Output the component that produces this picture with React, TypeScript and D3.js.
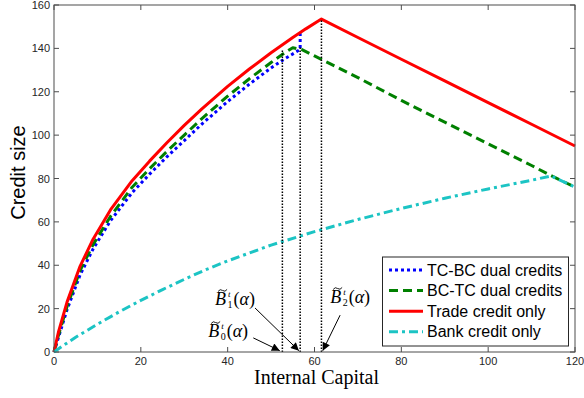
import React from 'react'
import * as d3 from 'd3'

const xTicks = [0, 20, 40, 60, 80, 100, 120]
const yTicks = [0, 20, 40, 60, 80, 100, 120, 140, 160]

// TC-BC dual credits (blue dotted)
const tcbcX = [0, 1, 3, 6, 9, 13, 18, 22, 26, 30, 34, 40, 45, 50, 53, 56.7, 56.7]
const tcbcY = [0, 6.5, 19.5, 35.5, 47.5, 60.5, 73.5, 82, 90, 97.5, 105, 115.5, 123.5, 131, 135, 139.5, 147]

// BC-TC dual credits (green dashed)
const bctcX = [0, 1, 3, 6, 9, 13, 18, 22, 26, 30, 34, 40, 45, 50, 53, 55, 57, 60, 70, 80, 90, 100, 110, 114.5, 120]
const bctcY = [0, 7.5, 21, 37.5, 49.5, 62.5, 76, 84.5, 92.5, 100, 107.5, 118, 126, 133.5, 137.8, 140.3, 139.5, 136.5, 126.5, 116, 106, 96, 86, 81.3, 76]

// Trade credit only (red solid)
const tradeX = [0, 1, 3, 6, 9, 13, 18, 22, 26, 30, 34, 40, 45, 50, 55, 58, 61.6, 70, 80, 90, 100, 110, 120]
const tradeY = [0, 9, 23, 39.5, 52, 65.5, 79, 88, 96.5, 104.5, 112, 122.5, 130.5, 138, 145, 149, 153.5, 145, 135, 125, 115, 105, 95]

// Bank credit only (cyan dash-dot)
const bankX = [0, 2, 5, 10, 15, 20, 25, 30, 35, 40, 50, 60, 70, 80, 90, 100, 110, 114.5, 120]
const bankY = [0, 2.8, 6.8, 12.8, 18.5, 23.8, 28.8, 33.5, 38, 42, 49.3, 55.5, 61.1, 66.2, 70.9, 75.2, 79.2, 81.2, 76]

// thresholds B0, B1, B2
const thresholdX = [52.6, 56.7, 61.6]
const thresholdTop = [139, 140.5, 153.5]
const thresholdIdx = ['0', '1', '2']

const seriesNames = ['TC-BC dual credits', 'BC-TC dual credits', 'Trade credit only', 'Bank credit only']
const seriesColors = ['#0000ff', '#008000', '#ff0000', '#1cc4c4']
const seriesDash = ['3,3', '9,5', null, '9,4,3,4']

const App = () => {
  const svgRef = React.useRef(null)
  const W = 584
  const H = 398

  React.useEffect(() => {
    const svg = d3.select(svgRef.current)
    svg.selectAll('*').remove()

    const left = 54
    const right = 575
    const top = 5
    const bottom = 352

    const x = d3.scaleLinear().domain([0, 120]).range([left, right])
    const y = d3.scaleLinear().domain([0, 160]).range([bottom, top])

    svg.append('rect')
      .attr('x', 0).attr('y', 0).attr('width', W).attr('height', H)
      .attr('fill', '#fff')

    const axisColor = '#4d4d4d'
    const tickFont = '11px "Liberation Sans", Arial, sans-serif'

    // ticks (inward, all four sides)
    const tk = svg.append('g').attr('stroke', axisColor).attr('stroke-width', 1)
    xTicks.forEach((t) => {
      tk.append('line').attr('x1', x(t)).attr('x2', x(t)).attr('y1', bottom).attr('y2', bottom - 5)
      tk.append('line').attr('x1', x(t)).attr('x2', x(t)).attr('y1', top).attr('y2', top + 5)
    })
    yTicks.forEach((t) => {
      tk.append('line').attr('x1', left).attr('x2', left + 5).attr('y1', y(t)).attr('y2', y(t))
      tk.append('line').attr('x1', right).attr('x2', right - 5).attr('y1', y(t)).attr('y2', y(t))
    })

    svg.append('g')
      .style('font', tickFont)
      .attr('fill', '#262626')
      .attr('text-anchor', 'middle')
      .selectAll('text')
      .data(xTicks)
      .join('text')
      .attr('x', (d) => x(d))
      .attr('y', bottom + 13)
      .text((d) => d)

    svg.append('g')
      .style('font', tickFont)
      .attr('fill', '#262626')
      .attr('text-anchor', 'end')
      .selectAll('text')
      .data(yTicks)
      .join('text')
      .attr('x', left - 4)
      .attr('y', (d) => y(d) + 4)
      .text((d) => d)

    // series
    const line = d3.line().x((d) => x(d[0])).y((d) => y(d[1]))
    const series = [
      d3.zip(tcbcX, tcbcY),
      d3.zip(bctcX, bctcY),
      d3.zip(tradeX, tradeY),
      d3.zip(bankX, bankY),
    ]
    series.forEach((pts, i) => {
      svg.append('path')
        .attr('d', line(pts))
        .attr('fill', 'none')
        .attr('stroke', seriesColors[i])
        .attr('stroke-width', 3)
        .attr('stroke-dasharray', seriesDash[i])
        .attr('stroke-linejoin', 'round')
    })

    // threshold lines
    thresholdX.forEach((t, i) => {
      svg.append('line')
        .attr('x1', x(t)).attr('x2', x(t))
        .attr('y1', y(0)).attr('y2', y(thresholdTop[i]))
        .attr('stroke', '#000')
        .attr('stroke-width', 1.5)
        .attr('stroke-dasharray', '1.5,1.5')
    })

    // box
    svg.append('rect')
      .attr('x', left).attr('y', top)
      .attr('width', right - left).attr('height', bottom - top)
      .attr('fill', 'none')
      .attr('stroke', axisColor)
      .attr('stroke-width', 1)

    // annotations
    const defs = svg.append('defs')
    defs.append('marker')
      .attr('id', 'ah')
      .attr('viewBox', '0 0 10 10')
      .attr('refX', 10).attr('refY', 5)
      .attr('markerWidth', 11).attr('markerHeight', 8)
      .attr('markerUnits', 'userSpaceOnUse')
      .attr('orient', 'auto')
      .append('path')
      .attr('d', 'M0,0L10,5L0,10Z')
      .attr('fill', '#000')

    const labelPos = [[35.5, 6.9], [37.1, 21.7], [63.6, 22.6]]
    const arrowFrom = [[45.9, 6.5], [46.3, 20.3], [65.9, 17]]
    const arrowTo = [[52.0, 0.6], [56.4, 0.6], [61.9, 0.6]]

    labelPos.forEach((p, i) => {
      const x0 = x(p[0])
      const b = y(p[1])
      const g = svg.append('g').style('font-family', '"Liberation Serif", "Times New Roman", serif').attr('fill', '#000')
      g.append('text').attr('x', x0).attr('y', b).style('font-size', '18px').style('font-style', 'italic').text('B')
      g.append('path')
        .attr('d', `M${x0 + 3},${b - 13.5} q2,-3 4.5,-1 t4.5,-1`)
        .attr('fill', 'none').attr('stroke', '#000').attr('stroke-width', 0.9)
      g.append('text').attr('x', x0 + 13).attr('y', b - 8).style('font-size', '9px').style('font-style', 'italic').text('t')
      g.append('text').attr('x', x0 + 12.5).attr('y', b + 3).style('font-size', '10px').text(thresholdIdx[i])
      const par = g.append('text').attr('x', x0 + 18.5).attr('y', b).style('font-size', '18px')
      par.append('tspan').text('(')
      par.append('tspan').style('font-style', 'italic').text('α')
      par.append('tspan').text(')')

      svg.append('line')
        .attr('x1', x(arrowFrom[i][0])).attr('y1', y(arrowFrom[i][1]))
        .attr('x2', x(arrowTo[i][0])).attr('y2', y(arrowTo[i][1]))
        .attr('stroke', '#000').attr('stroke-width', 1)
        .attr('marker-end', 'url(#ah)')
    })

    // legend
    const lg = svg.append('g')
    lg.append('rect')
      .attr('x', 382.5).attr('y', 257)
      .attr('width', 186).attr('height', 89)
      .attr('fill', '#fff')
      .attr('stroke', '#262626')
      .attr('stroke-width', 1)
    seriesNames.forEach((name, i) => {
      const cy = 270 + i * 20.6
      lg.append('line')
        .attr('x1', 389).attr('x2', 423)
        .attr('y1', cy).attr('y2', cy)
        .attr('stroke', seriesColors[i])
        .attr('stroke-width', 3)
        .attr('stroke-dasharray', seriesDash[i])
      lg.append('text')
        .attr('x', 427).attr('y', cy + 5.5)
        .style('font', '16px "Liberation Sans", Arial, sans-serif')
        .attr('fill', '#000')
        .text(name)
    })

    // axis titles
    svg.append('text')
      .attr('x', (left + right) / 2 + 2).attr('y', 384)
      .attr('text-anchor', 'middle')
      .style('font', '20px "Liberation Serif", "Times New Roman", serif')
      .attr('fill', '#000')
      .text('Internal Capital')

    svg.append('text')
      .attr('transform', 'translate(25,172.5) rotate(-90)')
      .attr('text-anchor', 'middle')
      .style('font', '20px "Liberation Sans", Arial, sans-serif')
      .attr('fill', '#000')
      .text('Credit size')
  }, [])

  return (
    <svg
      ref={svgRef}
      width={W}
      height={H}
      style={{ position: 'absolute', left: 0, top: 0, display: 'block' }}
    />
  )
}

export default App
